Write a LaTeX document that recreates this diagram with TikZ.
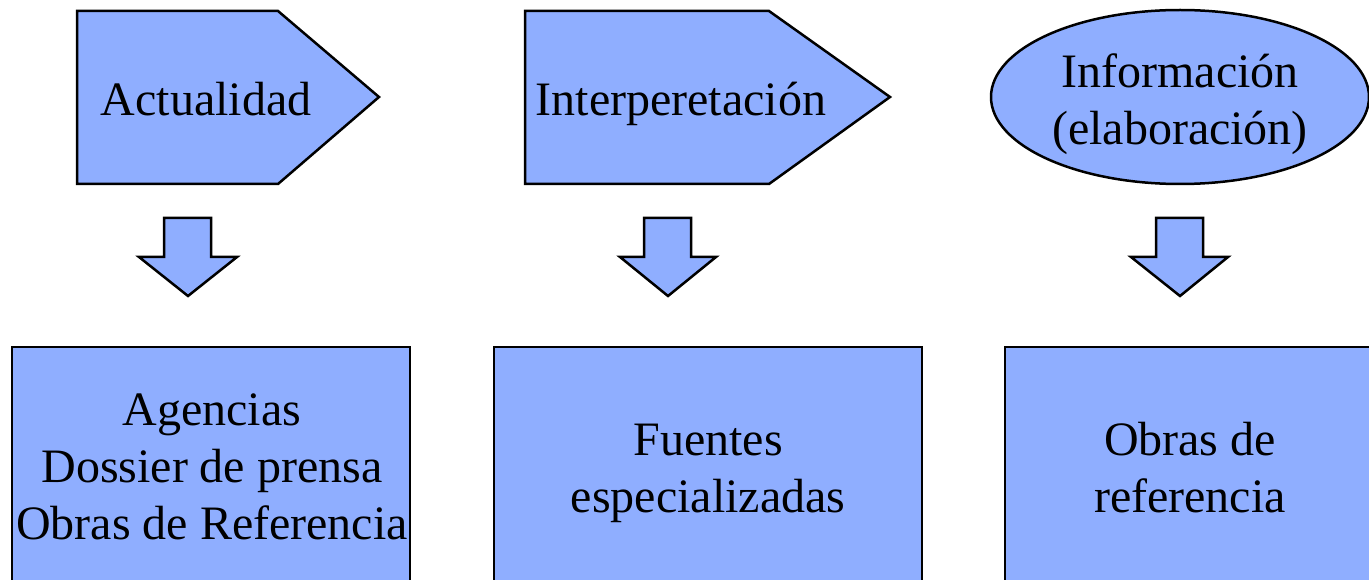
\documentclass[tikz,border=0pt]{standalone}
\usepackage{fontspec}
\setmainfont{Liberation Serif}
\definecolor{fillblue}{RGB}{143,174,255}
\tikzset{
  shp/.style={draw=black, fill=fillblue, line width=2.5pt, line join=miter},
  lbl/.style={font=\fontsize{48}{57}\selectfont, align=center, inner sep=0pt, anchor=base},
}
\begin{document}
\begin{tikzpicture}[x=1pt,y=-1pt]
\useasboundingbox (0,0) rectangle (1369,580);
\clip (0,0) rectangle (1369,580);
% top shapes
\draw[shp] (77,11) -- (278,11) -- (379,97) -- (278,184) -- (77,184) -- cycle;
\draw[shp] (525,11) -- (769,11) -- (890,97) -- (769,184) -- (525,184) -- cycle;
\draw[shp] (1180,97) ellipse [x radius=189pt, y radius=87pt];
% down block arrows
\draw[shp] (164,218) -- (211,218) -- (211,257) -- (237,257) -- (188,296) -- (139,257) -- (164,257) -- cycle;
\draw[shp] (644,218) -- (691,218) -- (691,257) -- (716,257) -- (668,296) -- (620,257) -- (644,257) -- cycle;
\draw[shp] (1156,218) -- (1203,218) -- (1203,257) -- (1228,257) -- (1180,296) -- (1131,257) -- (1156,257) -- cycle;
% bottom boxes
\draw[shp] (12,347) rectangle (410,600);
\draw[shp] (494,347) rectangle (922,600);
\draw[shp] (1005,347) rectangle (1380,600);
% labels
\node[lbl] (t1) at (206,116) {Actualidad};
\node[lbl] (t2) at (681,116) {Interperetación};
\node[lbl] (t3) at (1180,145) {Información\\(elaboración)};
\node[lbl] (b1) at (212,539) {Agencias\\Dossier de prensa\\Obras de Referencia};
\node[lbl] (b2) at (708,512) {Fuentes\\especializadas};
\node[lbl] (b3) at (1190,512) {Obras de\\referencia};
\end{tikzpicture}
\end{document}
